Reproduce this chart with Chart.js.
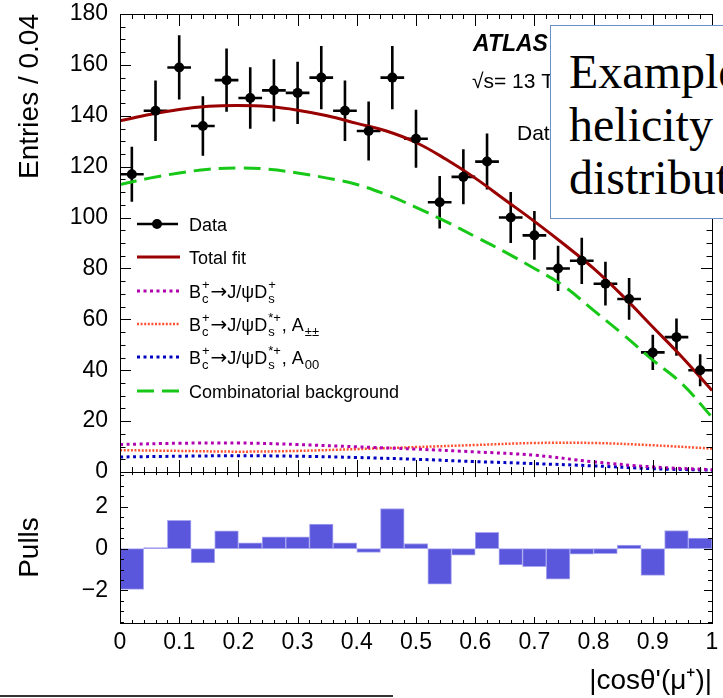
<!DOCTYPE html>
<html><head><meta charset="utf-8">
<script src="https://cdn.jsdelivr.net/npm/chart.js@4.4.1/dist/chart.umd.min.js"></script>
<style>
html,body{margin:0;padding:0;background:#fff;}
#wrap{position:relative;width:723px;height:698px;overflow:hidden;background:#fff;}
#c{position:absolute;left:0;top:0;}
#note{position:absolute;left:550px;top:25px;width:240px;height:194px;border:1.5px solid #6b8fca;background:#fff;
  font-family:"Liberation Serif","Times New Roman",serif;font-size:48px;line-height:53px;color:#000;
  padding:19px 0 0 18px;box-sizing:border-box;white-space:nowrap;}
#rule{position:absolute;left:0;top:695px;width:393px;height:2px;background:#333;}
</style></head>
<body><div id="wrap">
<canvas id="c" width="723" height="698"></canvas>
<div id="note">Example<br>helicity<br>distribution</div>
<div id="rule"></div>
</div>
<script>
// ---------------- data ----------------
const binCenters = [0.02,0.06,0.10,0.14,0.18,0.22,0.26,0.30,0.34,0.38,0.42,0.46,0.50,0.54,0.58,0.62,0.66,0.70,0.74,0.78,0.82,0.86,0.90,0.94,0.98];
const binHalfWidth = 0.02;
const entries = [117,142,159,136,154,147,150,149,155,142,134,155,131,106,116,122,100,93,80,83,74,68,47,53,40];
const entryErrors = [10.8,11.9,12.6,11.7,12.4,12.1,12.2,12.2,12.4,11.9,11.6,12.4,11.4,10.3,10.8,11.0,10.0,9.6,8.9,9.1,8.6,8.2,6.9,7.3,6.3];
const pulls = [-1.95,0.05,1.35,-0.68,0.84,0.27,0.56,0.56,1.17,0.27,-0.18,1.91,0.24,-1.70,-0.32,0.77,-0.78,-0.86,-1.46,-0.27,-0.25,0.17,-1.28,0.86,0.50];

const curveX = [0,0.05,0.10,0.15,0.20,0.25,0.30,0.35,0.40,0.45,0.50,0.55,0.60,0.65,0.70,0.75,0.80,0.85,0.90,0.95,1.00];
const totalFit = [138,140.5,142.5,143.7,144,143.6,142.2,140,137,134,129.5,123,115.5,107,98.5,89.5,80,69,57,45,32];
const combBkg  = [113,115.5,117.5,119,119.5,119,117.5,115.5,113,109,104,98.5,92.5,86.5,80,73,63.5,54,44,34.5,21.5];

const sigX = [0,0.1,0.2,0.3,0.4,0.5,0.6,0.7,0.8,0.9,1.0];
const sigDs       = [10.8,11.3,11.4,10.8,9.9,9.0,7.9,6.6,4.0,2.0,0.9];
const sigDsStarPP = [8.6,8.3,8.0,8.3,9.0,9.8,10.6,11.4,11.4,10.5,9.2];
const sigDsStar00 = [5.9,6.2,6.4,6.2,5.7,5.0,4.1,3.3,2.4,1.3,0.7];

const xTickValues = [0,0.1,0.2,0.3,0.4,0.5,0.6,0.7,0.8,0.9,1];
const yTickValues = [0,20,40,60,80,100,120,140,160,180];
const pullTickValues = [-2,0,2];

// ---------------- style ----------------
const FONT = '"Liberation Sans", Arial, Helvetica, sans-serif';
const C_FIT = '#990000', C_BKG = '#18c818', C_DS = '#b000b0', C_PP = '#ff5030', C_00 = '#0000c0', C_PULL = '#5b57dd';

const xy = (xs, ys) => xs.map((x, i) => ({x, y: ys[i]}));

const ARROW = {arrow: '\u2192'};
const legendRows = [
  {kind: 'data', parts: [{t: 'Data'}]},
  {ds: 1, parts: [{t: 'Total fit'}]},
  {ds: 2, parts: [{t: 'B'}, {sup: '+', sub: 'c'}, ARROW, {t: 'J/\u03C8D'}, {sup: '+', sub: 's'}]},
  {ds: 3, parts: [{t: 'B'}, {sup: '+', sub: 'c'}, ARROW, {t: 'J/\u03C8D'}, {sup: '*+', sub: 's'}, {t: ', A'}, {sub: '\u00B1\u00B1'}]},
  {ds: 4, parts: [{t: 'B'}, {sup: '+', sub: 'c'}, ARROW, {t: 'J/\u03C8D'}, {sup: '*+', sub: 's'}, {t: ', A'}, {sub: '00'}]},
  {ds: 5, parts: [{t: 'Combinatorial background'}]}
];
const legendY = [224, 257, 291, 324, 357, 391];

function drawRich(ctx, parts, x, y, size) {
  ctx.textBaseline = 'alphabetic';
  ctx.textAlign = 'left';
  for (const p of parts) {
    if (p.t !== undefined) {
      ctx.font = size + 'px ' + FONT;
      ctx.fillText(p.t, x, y);
      x += ctx.measureText(p.t).width;
    } else if (p.arrow) {
      ctx.font = (size + 2) + 'px "DejaVu Sans", sans-serif';
      ctx.fillText(p.arrow, x, y + 0.5);
      x += ctx.measureText(p.arrow).width;
    } else {
      const ss = Math.round(size * 0.72);
      ctx.font = ss + 'px ' + FONT;
      let w = 0;
      if (p.sup) { ctx.fillText(p.sup, x + 1, y - size * 0.45); w = Math.max(w, ctx.measureText(p.sup).width + 1); }
      if (p.sub) { ctx.fillText(p.sub, x + 1, y + size * 0.32); w = Math.max(w, ctx.measureText(p.sub).width + 1); }
      x += w + 1;
    }
  }
}

const fixVertical = s => { s.width = 120; s.paddingTop = 0; s.paddingBottom = 0; };

const decor = {
  id: 'decor',
  beforeDatasetsDraw(chart) {
    const ctx = chart.ctx, xs = chart.scales.x, ys = chart.scales.y;
    ctx.save();
    ctx.strokeStyle = '#000';
    ctx.lineWidth = 2.6;
    ctx.beginPath();
    binCenters.forEach((c, i) => {
      const px = xs.getPixelForValue(c), py = ys.getPixelForValue(entries[i]);
      ctx.moveTo(px, ys.getPixelForValue(entries[i] - entryErrors[i]));
      ctx.lineTo(px, ys.getPixelForValue(entries[i] + entryErrors[i]));
      ctx.moveTo(xs.getPixelForValue(c - binHalfWidth), py);
      ctx.lineTo(xs.getPixelForValue(c + binHalfWidth), py);
    });
    ctx.stroke();
    ctx.restore();
  },
  afterDraw(chart) {
    const ctx = chart.ctx, xs = chart.scales.x, ys = chart.scales.y, yp = chart.scales.yPull;
    const L = chart.chartArea.left, R = chart.chartArea.right;
    ctx.save();
    ctx.strokeStyle = '#000';
    ctx.lineWidth = 1;
    ctx.strokeRect(L + 0.5, ys.top + 0.5, R - L, ys.bottom - ys.top);
    ctx.strokeRect(L + 0.5, yp.top + 0.5, R - L, yp.bottom - yp.top);
    ctx.beginPath();
    for (let k = 0; k <= 50; k++) {
      const v = k / 50, px = Math.round(xs.getPixelForValue(v)) + 0.5, major = k % 5 === 0;
      const t1 = major ? 12 : 5, t2 = major ? 5 : 3, t3 = major ? 6 : 3;
      ctx.moveTo(px, ys.bottom); ctx.lineTo(px, ys.bottom - t1);
      ctx.moveTo(px, ys.top); ctx.lineTo(px, ys.top + t1);
      ctx.moveTo(px, yp.top); ctx.lineTo(px, yp.top + t2);
      ctx.moveTo(px, yp.bottom); ctx.lineTo(px, yp.bottom - t3);
    }
    for (let v = 0; v <= 180; v += 5) {
      const py = Math.round(ys.getPixelForValue(v)) + 0.5, len = v % 20 === 0 ? 11 : 5.5;
      ctx.moveTo(L, py); ctx.lineTo(L + len, py);
      ctx.moveTo(R, py); ctx.lineTo(R - len, py);
    }
    for (let v = -3.5; v <= 3.5; v += 0.5) {
      const py = Math.round(yp.getPixelForValue(v)) + 0.5, len = v % 2 === 0 ? 8 : 4;
      ctx.moveTo(L, py); ctx.lineTo(L + len, py);
      ctx.moveTo(R, py); ctx.lineTo(R - len, py);
    }
    ctx.stroke();

    ctx.fillStyle = '#000';
    ctx.textAlign = 'left';
    ctx.textBaseline = 'alphabetic';
    ctx.font = 'italic bold 23px ' + FONT;
    ctx.fillText('ATLAS', 473, 51);
    ctx.font = '21px ' + FONT;
    ctx.fillText('\u221As= 13 TeV, 139 fb\u207B\u00B9', 472, 88);
    ctx.fillText('Data 2015\u20132018', 517, 140);

    const ds = chart.data.datasets;
    legendRows.forEach((row, i) => {
      const y = legendY[i];
      if (row.kind === 'data') {
        ctx.strokeStyle = '#000'; ctx.lineWidth = 2.6; ctx.setLineDash([]);
        ctx.beginPath(); ctx.moveTo(137, y); ctx.lineTo(178, y); ctx.stroke();
        ctx.fillStyle = '#000';
        ctx.beginPath(); ctx.arc(157, y, 5, 0, Math.PI * 2); ctx.fill();
      } else {
        const d = ds[row.ds];
        ctx.strokeStyle = d.borderColor; ctx.lineWidth = d.borderWidth;
        ctx.setLineDash(d.borderDash || []);
        ctx.beginPath(); ctx.moveTo(137, y); ctx.lineTo(180, y); ctx.stroke();
        ctx.setLineDash([]);
      }
      ctx.fillStyle = '#000';
      drawRich(ctx, row.parts, 189, y + 6.5, 18);
    });
    ctx.restore();
  }
};

new Chart(document.getElementById('c'), {
  type: 'scatter',
  data: {
    datasets: [
      {type: 'scatter', label: 'Data', data: xy(binCenters, entries), yAxisID: 'y',
       pointRadius: 5, pointBackgroundColor: '#000', pointBorderColor: '#000', pointBorderWidth: 0, showLine: false},
      {type: 'line', label: 'Total fit', data: xy(curveX, totalFit), yAxisID: 'y',
       borderColor: C_FIT, borderWidth: 3, pointRadius: 0, tension: 0.4, fill: false},
      {type: 'line', label: 'Bc Ds', data: xy(sigX, sigDs), yAxisID: 'y',
       borderColor: C_DS, borderWidth: 3, borderDash: [3, 3.5], pointRadius: 0, tension: 0.4, fill: false},
      {type: 'line', label: 'Bc Ds* A++', data: xy(sigX, sigDsStarPP), yAxisID: 'y',
       borderColor: C_PP, borderWidth: 2.5, borderDash: [2, 1.6], pointRadius: 0, tension: 0.4, fill: false},
      {type: 'line', label: 'Bc Ds* A00', data: xy(sigX, sigDsStar00), yAxisID: 'y',
       borderColor: C_00, borderWidth: 3, borderDash: [3, 3.5], pointRadius: 0, tension: 0.4, fill: false},
      {type: 'line', label: 'Combinatorial background', data: xy(curveX, combBkg), yAxisID: 'y',
       borderColor: C_BKG, borderWidth: 3, borderDash: [17, 8], pointRadius: 0, tension: 0.4, fill: false},
      {type: 'bar', label: 'Pulls', data: xy(binCenters, pulls), yAxisID: 'yPull',
       backgroundColor: C_PULL, borderColor: '#a9a7f0', borderWidth: 1, borderSkipped: false,
       barPercentage: 1, categoryPercentage: 1}
    ]
  },
  options: {
    responsive: false, animation: false, devicePixelRatio: 1,
    layout: {padding: {left: 0, right: 11, top: 14, bottom: 0}},
    plugins: {legend: {display: false}, tooltip: {enabled: false}},
    scales: {
      x: {
        type: 'linear', position: 'bottom', min: 0, max: 1, offset: false,
        afterBuildTicks: s => { s.ticks = xTickValues.map(v => ({value: v})); },
        afterFit: s => { s.height = 75; s.paddingLeft = 0; s.paddingRight = 0; },
        ticks: {color: '#000', font: {family: FONT, size: 23}, padding: 6, maxRotation: 0, autoSkip: false,
                callback: v => String(Math.round(v * 10) / 10)},
        grid: {display: false, drawTicks: false}, border: {display: false},
        title: {display: true, text: "|cos\u03B8'(\u03BC\u207A)|", align: 'end', color: '#000',
                font: {family: FONT, size: 28}, padding: {top: 0, bottom: 0}}
      },
      yPull: {
        type: 'linear', position: 'left', stack: 'v', stackWeight: 151, min: -3.55, max: 3.65,
        afterBuildTicks: s => { s.ticks = pullTickValues.map(v => ({value: v})); },
        afterFit: fixVertical,
        ticks: {color: '#000', font: {family: FONT, size: 23}, padding: 12, autoSkip: false,
                callback: v => String(v).replace('-', '\u2212')},
        grid: {display: false, drawTicks: false}, border: {display: false},
        title: {display: true, text: 'Pulls', align: 'center', color: '#000',
                font: {family: FONT, size: 28}, padding: {top: 13, bottom: 0}}
      },
      y: {
        type: 'linear', position: 'left', stack: 'v', stackWeight: 458, min: 0, max: 180,
        afterBuildTicks: s => { s.ticks = yTickValues.map(v => ({value: v})); },
        afterFit: fixVertical,
        ticks: {color: '#000', font: {family: FONT, size: 23}, padding: 12, autoSkip: false},
        grid: {display: false, drawTicks: false}, border: {display: false},
        title: {display: true, text: 'Entries / 0.04', align: 'end', color: '#000',
                font: {family: FONT, size: 28}, padding: {top: 13, bottom: 0}}
      }
    }
  },
  plugins: [decor]
});
</script>
</body></html>
